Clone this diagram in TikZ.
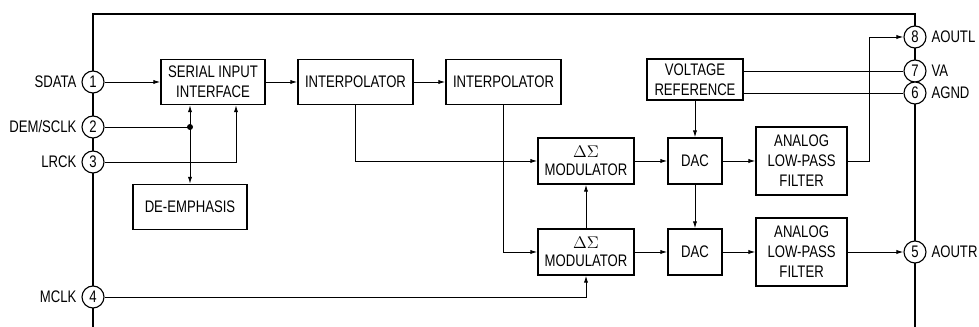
\documentclass[tikz,border=0pt]{standalone}
\usepackage[no-math]{fontspec}
\setmainfont[FakeStretch=0.785]{Liberation Sans}
\usetikzlibrary{arrows.meta,positioning}

\begin{document}
\begin{tikzpicture}[every node/.style={font=\fontsize{11.9}{14.2}\selectfont},
  blk/.style={draw, line width=0.9pt, align=center, inner sep=0pt},
  pin/.style={circle, draw, fill=white, line width=0.8pt, minimum size=0.55cm, inner sep=0pt},
  sig/.style={line width=0.7pt, -{Latex[length=5pt,width=3pt]}},
  wire/.style={line width=0.7pt}]
  \useasboundingbox (0,0) rectangle (24.475,8.175);
  % ---- package outline
  \draw[line width=1.4pt] (2.325,0) -- (2.325,7.825) -- (22.875,7.825) -- (22.875,0);
  % ---- pins, left side
  \node[pin, label={left:SDATA}] (sdata) at (2.325,6.125) {1};
  \node[pin, label={left:DEM/SCLK}] (demsclk) at (2.325,5.0) {2};
  \node[pin, label={left:LRCK}] (lrck) at (2.325,4.125) {3};
  \node[pin, label={left:MCLK}] (mclk) at (2.325,0.75) {4};
  % ---- pins, right side
  \node[pin, label={right:AOUTL}] (aoutl) at (22.875,7.25) {8};
  \node[pin, label={right:VA}] (va) at (22.875,6.4) {7};
  \node[pin, label={right:AGND}] (agnd) at (22.875,5.85) {6};
  \node[pin, label={right:AOUTR}] (aoutr) at (22.875,1.875) {5};
  % ---- digital blocks
  \node[blk, minimum width=2.6cm, minimum height=1.125cm] (serial) at (5.325,6.125) {SERIAL INPUT\\INTERFACE};
  \node[blk, minimum width=2.875cm, minimum height=1.125cm] (interpA) at (8.8875,6.125) {INTERPOLATOR};
  \node[blk, minimum width=2.875cm, minimum height=1.125cm] (interpB) at (12.5875,6.125) {INTERPOLATOR};
  \node[blk, minimum width=2.85cm, minimum height=1.125cm] (deemph) at (4.75,3.0) {DE-EMPHASIS};
  \node[blk, minimum width=2.4cm, minimum height=1.15cm] (modA) at (14.65,4.15) {$\Delta\Sigma$\\[-1pt]MODULATOR};
  \node[blk, minimum width=2.4cm, minimum height=1.15cm] (modB) at (14.65,1.875) {$\Delta\Sigma$\\[-1pt]MODULATOR};
  % ---- analog blocks
  \node[blk, minimum width=2.4cm, minimum height=1.025cm] (vref) at (17.375,6.1875) {VOLTAGE\\REFERENCE};
  \node[blk, minimum width=1.35cm, minimum height=1.15cm] (dacA) at (17.375,4.15) {DAC};
  \node[blk, minimum width=1.35cm, minimum height=1.15cm] (dacB) at (17.375,1.875) {DAC};
  \node[blk, minimum width=2.275cm, minimum height=1.7cm] (lpfA) at (20.04,4.15) {ANALOG\\LOW-PASS\\FILTER};
  \node[blk, minimum width=2.275cm, minimum height=1.7cm] (lpfB) at (20.04,1.875) {ANALOG\\LOW-PASS\\FILTER};
  % ---- serial port
  \coordinate (dot) at (4.75,5.0);
  \draw[sig] (sdata) -- (serial);
  \draw[wire] (demsclk) -- (dot);
  \fill (dot) circle (0.075);
  \draw[sig] (dot) -- (dot |- serial.south);
  \draw[sig] (dot) -- (deemph.north);
  \draw[sig] (lrck) -| ([xshift=0.575cm]serial.south);
  % ---- data path
  \draw[sig] (serial) -- (interpA);
  \draw[sig] (interpA) -- (interpB);
  \draw[sig] (interpA.south) |- (modA.west);
  \draw[sig] (interpB.south) |- (modB.west);
  \draw[sig] (modB) -- (modA);
  \draw[sig] (mclk) -| (modB.south);
  \draw[sig] (modA) -- (dacA);
  \draw[sig] (modB) -- (dacB);
  \draw[sig] (vref) -- (dacA);
  \draw[sig] (dacA) -- (dacB);
  \draw[sig] (dacA) -- (lpfA);
  \draw[sig] (dacB) -- (lpfB);
  % ---- outputs and supply
  \draw[sig] (lpfA.east) -- ++(0.55,0) |- (aoutl);
  \draw[sig] (lpfB) -- (aoutr);
  \draw[wire] (vref.east |- va) -- (va);
  \draw[wire] (vref.east |- agnd) -- (agnd);
\end{tikzpicture}
\end{document}
